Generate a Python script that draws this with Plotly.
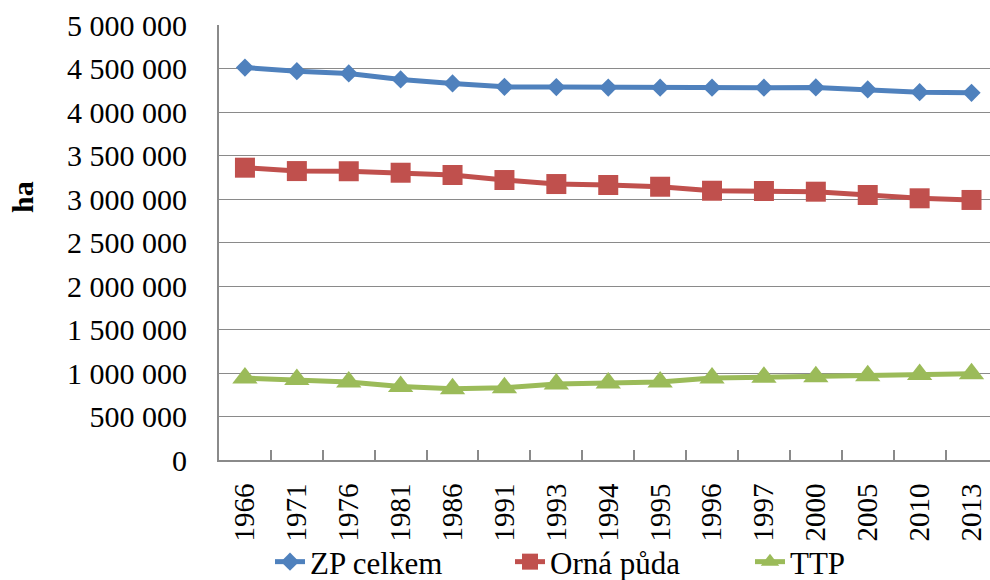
import plotly.graph_objects as go

# Years (category axis)
years = ["1966", "1971", "1976", "1981", "1986", "1991", "1993", "1994",
         "1995", "1996", "1997", "2000", "2005", "2010", "2013"]

# Land area in hectares
zp_celkem = [4511000, 4469000, 4443000, 4374000, 4328000, 4289000, 4286000, 4281000,
             4280000, 4280000, 4280000, 4282000, 4259000, 4228000, 4220000]
orna_puda = [3360000, 3321000, 3319000, 3302000, 3276000, 3218000, 3172000, 3161000,
             3141000, 3095000, 3092000, 3084000, 3046000, 3008000, 2989000]
ttp = [942000, 926000, 896000, 846000, 819000, 831000, 873000, 885000,
       896000, 942000, 950000, 957000, 969000, 984000, 992000]

series_names = ["ZP celkem", "Orná půda", "TTP"]
y_ticks = list(range(0, 5000001, 500000))

FONT = "Times New Roman, Liberation Serif, serif"
GRID = "#8a8a8a"

fig = go.Figure()
styles = [
    (zp_celkem, "#4F81BD", "diamond", 14),
    (orna_puda, "#C0504D", "square", 20),
    (ttp, "#9BBB59", "triangle-up", 22),
]
for name, (vals, color, symbol, size) in zip(series_names, styles):
    fig.add_trace(go.Scatter(
        x=years, y=vals, name=name, mode="lines+markers",
        line=dict(color=color, width=5),
        marker=dict(symbol=symbol, size=size, color=color, line=dict(width=0)),
    ))

fig.update_layout(
    width=990, height=580,
    margin=dict(l=219, r=0, t=25, b=120, autoexpand=False),
    paper_bgcolor="white", plot_bgcolor="white",
    separators=", ",
    font=dict(family=FONT, size=30, color="black"),
    showlegend=True,
    legend=dict(
        orientation="h",
        xref="container", yref="container",
        x=270 / 990, y=1 - 562 / 580,
        xanchor="left", yanchor="middle",
        font=dict(family=FONT, size=31, color="black"),
        entrywidth=195,
        bgcolor="rgba(0,0,0,0)",
        borderwidth=0,
    ),
    annotations=[dict(
        text="<b>ha</b>", textangle=-90,
        xref="paper", yref="paper",
        x=(22 - 219) / 771, y=(460 - 197) / 435,
        xanchor="center", yanchor="middle", showarrow=False,
        font=dict(family=FONT, size=30, color="black"),
    )],
)

fig.update_xaxes(
    type="category",
    range=[-0.5, 14.356],
    automargin=False,
    tickson="boundaries",
    ticks="inside", ticklen=10, tickcolor=GRID, tickwidth=1.5,
    showline=True, linecolor=GRID, linewidth=2,
    showgrid=False, zeroline=False,
    tickangle=-90,
    ticklabelstandoff=10,
    tickfont=dict(family=FONT, size=29, color="black"),
)
fig.update_yaxes(
    range=[0, 5000000],
    automargin=False,
    tickvals=y_ticks,
    tickformat=",d",
    showline=True, linecolor=GRID, linewidth=2,
    showgrid=True, gridcolor=GRID, gridwidth=1.3,
    zeroline=False,
    ticks="",
    ticklabelstandoff=24,
    tickfont=dict(family=FONT, size=30, color="black"),
)

fig.write_html("out.html")
